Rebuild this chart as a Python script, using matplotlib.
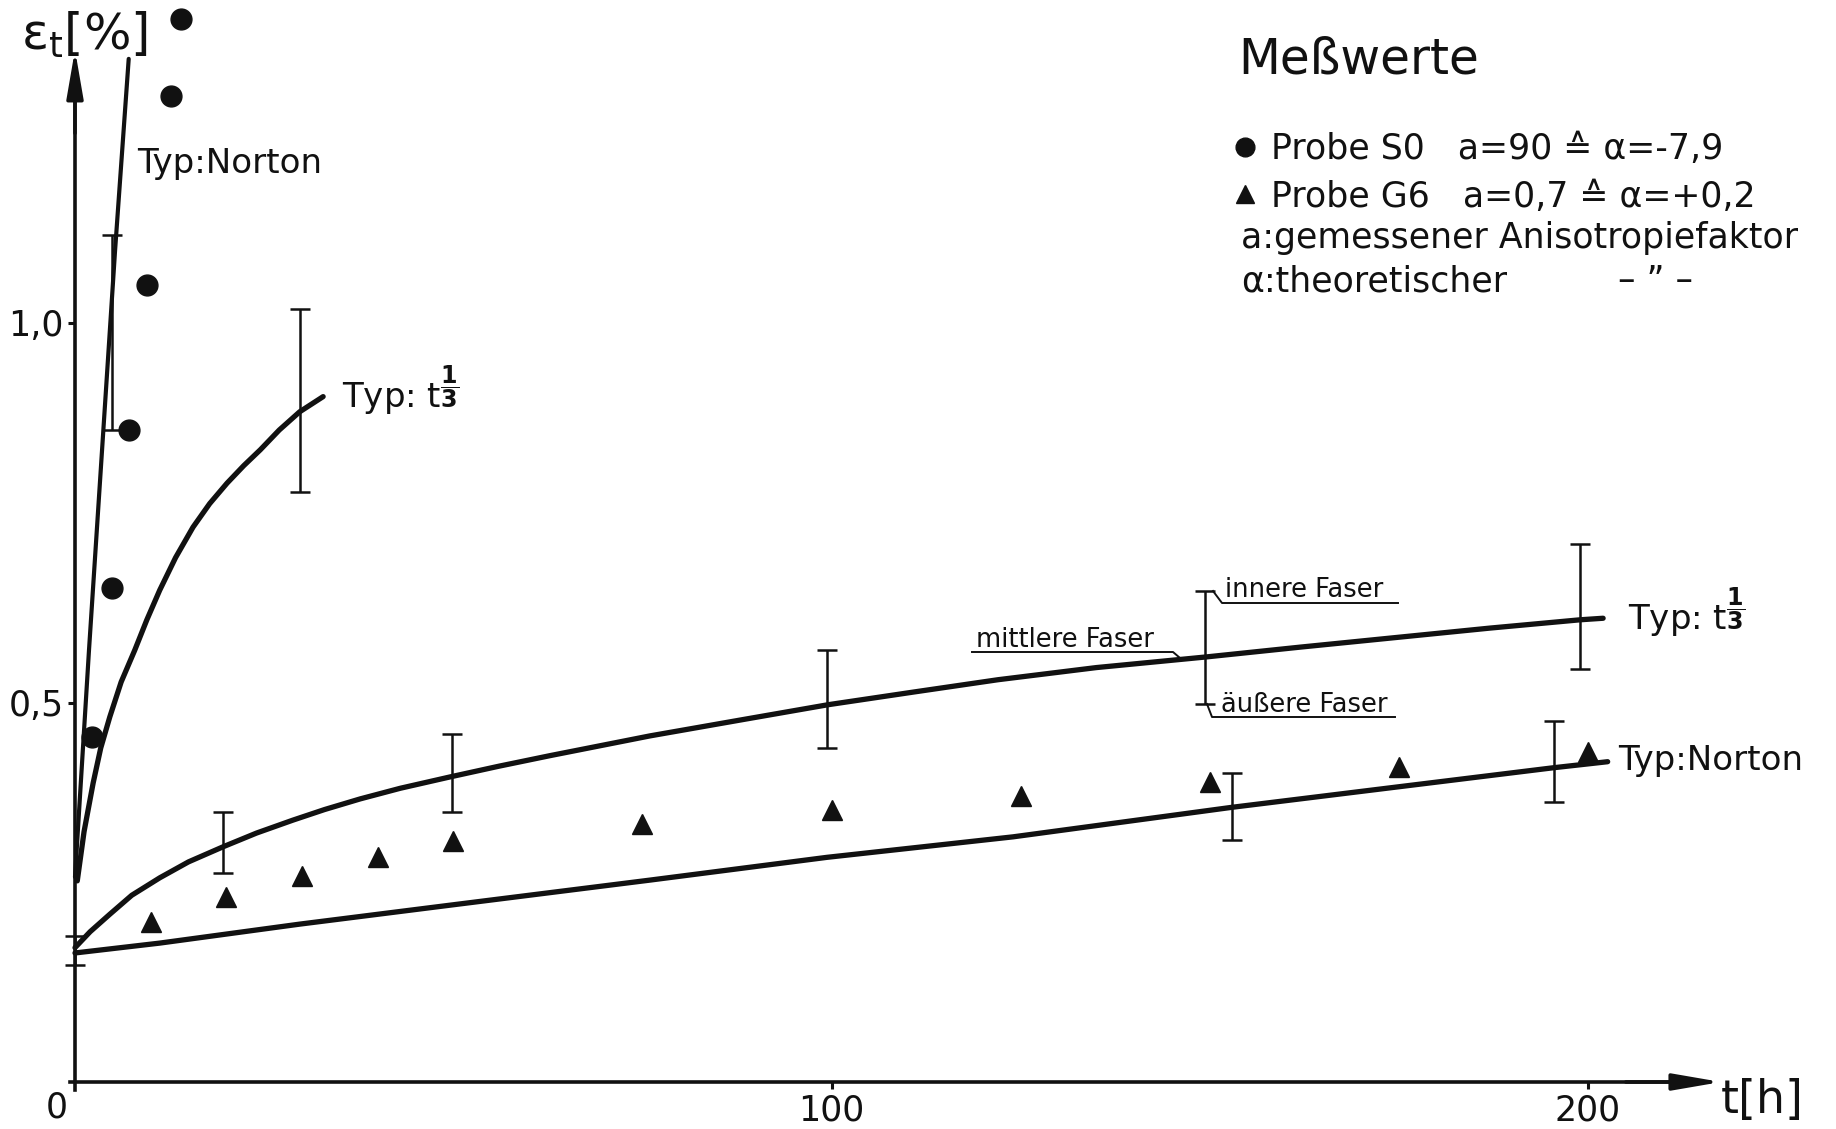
import matplotlib
matplotlib.use("Agg")
import matplotlib.pyplot as plt

plt.rcParams["font.family"] = ["DejaVu Sans"]
plt.rcParams["mathtext.fontset"] = "dejavusans"

INK = "#111111"

# measured values, Probe S0 (circles) and Probe G6 (triangles)
s0_t = [2.2, 4.9, 7.2, 9.5, 12.7, 14.0]
s0_eps = [0.455, 0.651, 0.859, 1.050, 1.299, 1.401]

g6_t = [10, 20, 30, 40, 50, 75, 100, 125, 150, 175, 200]
g6_eps = [0.211, 0.244, 0.271, 0.297, 0.318, 0.340, 0.358, 0.377, 0.395, 0.415, 0.435]

# model curves
s0_norton_t = [0.0, 1.85, 5.3, 7.1]
s0_norton_eps = [0.27, 0.569, 1.096, 1.348]

s0_cubic_t = [0.3, 1.2, 2.4, 3.4, 4.6, 6.1, 7.9, 9.5, 11.2, 13.3, 15.6, 17.8,
              20.1, 22.3, 24.5, 27.0, 29.7, 32.8]
s0_cubic_eps = [0.265, 0.330, 0.394, 0.440, 0.481, 0.527, 0.569, 0.609, 0.648, 0.691,
                0.731, 0.762, 0.789, 0.812, 0.833, 0.859, 0.883, 0.903]

g6_cubic_t = [0, 2, 4.6, 7.5, 11.2, 15, 19.6, 24, 28.8, 33, 37.7, 43, 49.6, 56, 62.8,
              69.4, 76, 88, 99.5, 111, 122, 135, 149.5, 162, 175, 187, 199, 202]
g6_cubic_eps = [0.177, 0.198, 0.221, 0.246, 0.269, 0.290, 0.310, 0.328, 0.345, 0.359,
                0.373, 0.387, 0.402, 0.416, 0.430, 0.443, 0.456, 0.477, 0.497, 0.514,
                0.530, 0.546, 0.560, 0.573, 0.586, 0.598, 0.609, 0.611]

g6_norton_t = [0, 11.2, 29.7, 49.6, 76, 99.4, 124, 153, 175, 195.4, 202.6]
g6_norton_eps = [0.170, 0.183, 0.208, 0.233, 0.266, 0.296, 0.323, 0.362, 0.389, 0.414, 0.422]

# scatter bands (inner / outer fibre)
band_t = [0, 4.9, 29.7, 19.6, 49.8, 99.4, 149.4, 199.0, 153.0, 195.5]
band_lo = [0.154, 0.859, 0.777, 0.275, 0.356, 0.440, 0.498, 0.544, 0.319, 0.369]
band_hi = [0.192, 1.116, 1.018, 0.356, 0.458, 0.569, 0.647, 0.709, 0.407, 0.476]

x_ticks = [100, 200]
x_tick_labels = ["100", "200"]
y_ticks = [0.5, 1.0]
y_tick_labels = ["0,5", "1,0"]

# page geometry (pixels): origin at (75, 1082), 7.565 px per hour, 759 px per 1 %
W, H = 1836, 1129
X0, Y0, SX, SY = 75.0, 1082.0, 7.565, 759.0


def at(px, py):
    """pixel position on the page -> data coordinates"""
    return (px - X0) / SX, (Y0 - py) / SY


fig = plt.figure(figsize=(W / 100, H / 100), dpi=100)
ax = fig.add_axes([0, 0, 1, 1])
ax.set_xlim(-X0 / SX, (W - X0) / SX)
ax.set_ylim(-(H - Y0) / SY, Y0 / SY)
ax.patch.set_visible(False)

# axes through the origin
for side in ("top", "right"):
    ax.spines[side].set_visible(False)
ax.spines["left"].set_position(("data", 0))
ax.spines["bottom"].set_position(("data", 0))
ax.spines["left"].set_bounds(-0.011, 1.30)
ax.spines["bottom"].set_bounds(-0.7, 212)
for side in ("left", "bottom"):
    ax.spines[side].set_linewidth(2.6)
    ax.spines[side].set_color(INK)

arrow = dict(arrowstyle="-|>,head_length=1.45,head_width=0.25", mutation_scale=20,
             lw=2.6, color=INK, shrinkA=0, shrinkB=0)
ax.annotate("", xy=(0, 1.36), xytext=(0, 1.25), arrowprops=arrow)
ax.annotate("", xy=(217.6, 0), xytext=(205, 0), arrowprops=arrow)

ax.set_xticks(x_ticks, x_tick_labels)
ax.set_yticks(y_ticks, y_tick_labels)
ax.tick_params(direction="out", length=5, width=2.2, colors=INK, labelsize=25)
ax.tick_params(axis="x", pad=3)
ax.tick_params(axis="y", pad=3)
ax.text(*at(57, 1108), "0", fontsize=25, ha="center", va="center", color=INK)

ax.text(*at(21, 35), r"ε$_\mathrm{t}$[%]", fontsize=36, ha="left", va="center", color=INK)
ax.text(*at(1721, 1100), "t[h]", fontsize=33, ha="left", va="center", color=INK)

# model curves
ax.plot(s0_norton_t, s0_norton_eps, color=INK, lw=3.0, solid_capstyle="round")
ax.plot(s0_cubic_t, s0_cubic_eps, color=INK, lw=3.8, solid_capstyle="round",
        solid_joinstyle="round")
ax.plot(g6_cubic_t, g6_cubic_eps, color=INK, lw=3.8, solid_capstyle="round",
        solid_joinstyle="round")
ax.plot(g6_norton_t, g6_norton_eps, color=INK, lw=3.8, solid_capstyle="round",
        solid_joinstyle="round")

# scatter bands
ax.vlines(band_t, band_lo, band_hi, color=INK, lw=1.8)
ax.plot(band_t, band_lo, ls="none", marker="_", ms=14, mew=1.8, color=INK)
ax.plot(band_t, band_hi, ls="none", marker="_", ms=14, mew=1.8, color=INK)

# measured points
s0_pts, = ax.plot(s0_t, s0_eps, ls="none", marker="o", ms=15, color=INK, zorder=5,
                  label="Probe S0   a=90 ≙ α=-7,9")
g6_pts, = ax.plot(g6_t, g6_eps, ls="none", marker="^", ms=15, color=INK, zorder=5,
                  label="Probe G6   a=0,7 ≙ α=+0,2")

typ = dict(fontsize=24.5, ha="left", va="baseline", color=INK)
cube = r"Typ: t$^{\mathbf{\dfrac{1}{3}}}$"
ax.text(*at(137, 173), "Typ:Norton", **typ)
ax.text(*at(342, 408), cube, **typ)
ax.text(*at(1628, 630), cube, **typ)
ax.text(*at(1618, 770), "Typ:Norton", **typ)

# fibre labels with their leaders
small = dict(fontsize=18.5, ha="left", va="baseline", color=INK)
ax.text(*at(1225, 597), "innere Faser", **small)
ax.text(*at(1221, 712), "äußere Faser", **small)
ax.text(*at(976, 647), "mittlere Faser", **small)
leaders = [
    [(1213, 591), (1222, 603), (1398, 603)],
    [(1207, 704), (1212, 717), (1395, 717)],
    [(972, 652), (1173, 652), (1180, 658)],
]
for pts in leaders:
    xs, ys = zip(*[at(*p) for p in pts])
    ax.plot(xs, ys, color=INK, lw=1.4)

# key
ax.text(*at(1238, 74), "Meßwerte", fontsize=35, ha="left", va="baseline", color=INK)
fs = 25
leg = ax.legend(handles=[s0_pts, g6_pts], loc="upper left",
                bbox_to_anchor=(1231 / W, 1 - 132 / H), bbox_transform=fig.transFigure,
                frameon=False, fontsize=fs, borderpad=0, borderaxespad=0,
                handlelength=0.8, handletextpad=0.35, labelspacing=0.39,
                numpoints=1, markerscale=0.9)
for t in leg.get_texts():
    t.set_color(INK)
ax.text(*at(1241, 248), "a:gemessener Anisotropiefaktor", fontsize=fs, ha="left",
        va="baseline", color=INK)
ax.text(*at(1241, 291), "α:theoretischer", fontsize=fs, ha="left", va="baseline", color=INK)
ax.text(*at(1655, 291), "– \u201d –", fontsize=fs, ha="center", va="baseline", color=INK)

fig.savefig("out.png", dpi=100)
plt.close(fig)
